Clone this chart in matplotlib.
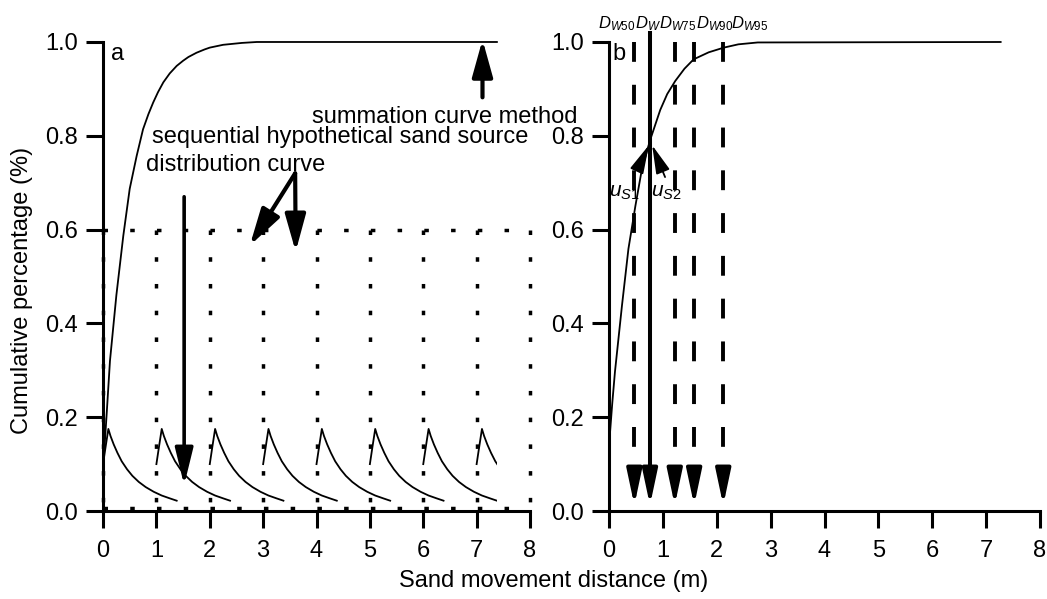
import matplotlib
matplotlib.use("Agg")
import matplotlib.pyplot as plt
from matplotlib.patches import Rectangle
import numpy as np

plt.rcParams['font.family'] = ['Liberation Sans', 'DejaVu Sans']
plt.rcParams['mathtext.fontset'] = 'custom'
plt.rcParams['mathtext.it'] = 'Liberation Sans:italic'
plt.rcParams['mathtext.rm'] = 'Liberation Sans'

# ---- data ----
# panel a: summation curve
sum_x = [0.0, 0.03, 0.07, 0.13, 0.25, 0.38, 0.50, 0.63, 0.75, 0.85, 0.94, 1.03,
         1.13, 1.25, 1.38, 1.50, 1.60, 1.75, 1.90, 2.00, 2.25, 2.60, 2.88, 3.50, 7.38]
sum_y = [0.10, 0.14, 0.21, 0.32, 0.46, 0.587, 0.687, 0.757, 0.814, 0.846, 0.871, 0.893,
         0.914, 0.933, 0.949, 0.960, 0.968, 0.977, 0.984, 0.988, 0.994, 0.998, 1.0, 1.0, 1.0]

# panel a: one hypothetical sand source pulse (offset from its source, value)
pulse_dx = [0.0, 0.05, 0.10, 0.14, 0.20, 0.27, 0.35, 0.45, 0.55, 0.67, 0.80,
            0.95, 1.10, 1.25, 1.38]
pulse_y = [0.10, 0.138, 0.175, 0.160, 0.142, 0.124, 0.106, 0.089, 0.075, 0.062,
           0.051, 0.041, 0.033, 0.027, 0.022]
source_x = [0, 1, 2, 3, 4, 5, 6, 7]
grid_x = [0, 1, 2, 3, 4, 5, 6, 7, 8]
grid_top = 0.6
x_end = 7.38

# panel b: summation curve
b_x = [0.0, 0.02, 0.06, 0.11, 0.24, 0.36, 0.49, 0.61, 0.76, 0.95, 1.08, 1.23,
       1.40, 1.57, 1.85, 2.13, 2.40, 2.76, 7.27]
b_y = [0.10, 0.17, 0.23, 0.297, 0.438, 0.559, 0.651, 0.729, 0.79, 0.855, 0.889, 0.917,
       0.943, 0.963, 0.978, 0.988, 0.995, 0.999, 1.0]
d_names = [r'$D_{\mathit{W50}}$', r'$D_{\mathit{W}}$', r'$D_{\mathit{W75}}$',
           r'$D_{\mathit{W90}}$', r'$D_{\mathit{W95}}$']
d_x = [0.47, 0.76, 1.22, 1.58, 2.12]
d_label_x = [-0.20, 0.48, 0.93, 1.62, 2.26]

FS = 17
ticks_y = [0.0, 0.2, 0.4, 0.6, 0.8, 1.0]
ticks_x = [0, 1, 2, 3, 4, 5, 6, 7, 8]


def style_axes(ax):
    ax.set_xlim(0, 8)
    ax.set_ylim(0, 1)
    for s in ['top', 'right']:
        ax.spines[s].set_visible(False)
    for s in ['left', 'bottom']:
        ax.spines[s].set_linewidth(2.2)
    ax.set_xticks(ticks_x)
    ax.set_yticks(ticks_y)
    ax.set_yticklabels([f'{v:.1f}' for v in ticks_y])
    ax.tick_params(direction='out', length=12, width=2.2, labelsize=FS, pad=6)
    ax.tick_params(axis='x', pad=9)


def arrow(ax, tail, tip, lw=2.6, hl=0.9, hw=0.3, ms=25):
    ax.annotate('', xy=tip, xytext=tail, annotation_clip=False,
                arrowprops=dict(arrowstyle=f'-|>,head_length={hl},head_width={hw}',
                                lw=lw, color='black', mutation_scale=ms,
                                shrinkA=0, shrinkB=0))


fig = plt.figure(figsize=(10.47, 5.99), dpi=100)
ax_a = fig.add_axes([0.0984, 0.1469, 0.4078, 0.7830])
ax_b = fig.add_axes([0.5817, 0.1469, 0.4116, 0.7830])

# ---------- panel a ----------
style_axes(ax_a)
clip = Rectangle((-1, -1), x_end + 1, 3, transform=ax_a.transData)

dots = dict(color='black', lw=2.5, linestyle=(0, (1.3, 6.4)), clip_on=False)
for gx in grid_x:
    ax_a.plot([gx, gx], [grid_top, 0.0], **dots)
ax_a.plot([0, 8], [grid_top, grid_top], **dots)
ax_a.plot([0, 8], [0.006, 0.006], **dots)

ax_a.plot(sum_x, sum_y, color='black', lw=1.3, clip_on=False)
for sx in source_x:
    px = np.array(pulse_dx) + sx
    ln, = ax_a.plot(px, pulse_y, color='black', lw=1.3)
    ln.set_clip_path(clip)

ax_a.text(0.15, 0.975, 'a', fontsize=FS, va='center', ha='left')
ax_a.text(3.91, 0.827, 'summation curve method', fontsize=FS, va='baseline',
          ha='left', clip_on=False)
ax_a.text(0.91, 0.784, 'sequential hypothetical sand source', fontsize=FS,
          va='baseline', ha='left', clip_on=False)
ax_a.text(0.81, 0.726, 'distribution curve', fontsize=FS, va='baseline', ha='left')

arrow(ax_a, (7.11, 0.882), (7.11, 1.005), lw=3, hw=0.25)
arrow(ax_a, (3.6, 0.72), (2.75, 0.566), lw=3, hw=0.25)
arrow(ax_a, (3.6, 0.72), (3.61, 0.553), lw=3, hw=0.25)
arrow(ax_a, (1.52, 0.67), (1.52, 0.055), lw=2.6, hw=0.22)

# ---------- panel b ----------
style_axes(ax_b)
ax_b.plot(b_x, b_y, color='black', lw=1.3, clip_on=False)

for i, dx in enumerate(d_x):
    if i == 1:
        ax_b.plot([dx, dx], [1.02, 0.06], color='black', lw=2.9, clip_on=False)
    else:
        ax_b.plot([dx, dx], [1.0, 0.06], color='black', lw=2.8,
                  linestyle=(0, (5.1, 5.9)), clip_on=False)
    arrow(ax_b, (dx, 0.075), (dx, 0.012), lw=2.8, hl=0.85, hw=0.18)
    ax_b.text(d_label_x[i], 1.03, d_names[i], fontsize=12, ha='left',
              va='baseline', clip_on=False)

arrow(ax_b, (0.54, 0.731), (0.74, 0.78), lw=1.3, hl=0.8, hw=0.2, ms=22)
arrow(ax_b, (1.04, 0.712), (0.80, 0.78), lw=1.3, hl=0.8, hw=0.2, ms=22)
ax_b.text(0.28, 0.67, r'$u_{\mathit{S1}}$', fontsize=15, ha='center', va='baseline')
ax_b.text(1.06, 0.67, r'$u_{\mathit{S2}}$', fontsize=15, ha='center', va='baseline')
ax_b.text(0.06, 0.975, 'b', fontsize=FS, va='center', ha='left')

fig.text(22 / 1047, 1 - 290 / 599, 'Cumulative percentage (%)', rotation=90,
         fontsize=FS, ha='center', va='center')
fig.text(554 / 1047, 1 - 581 / 599, 'Sand movement distance (m)', fontsize=FS,
         ha='center', va='center')

fig.savefig('out.png', dpi=100)
